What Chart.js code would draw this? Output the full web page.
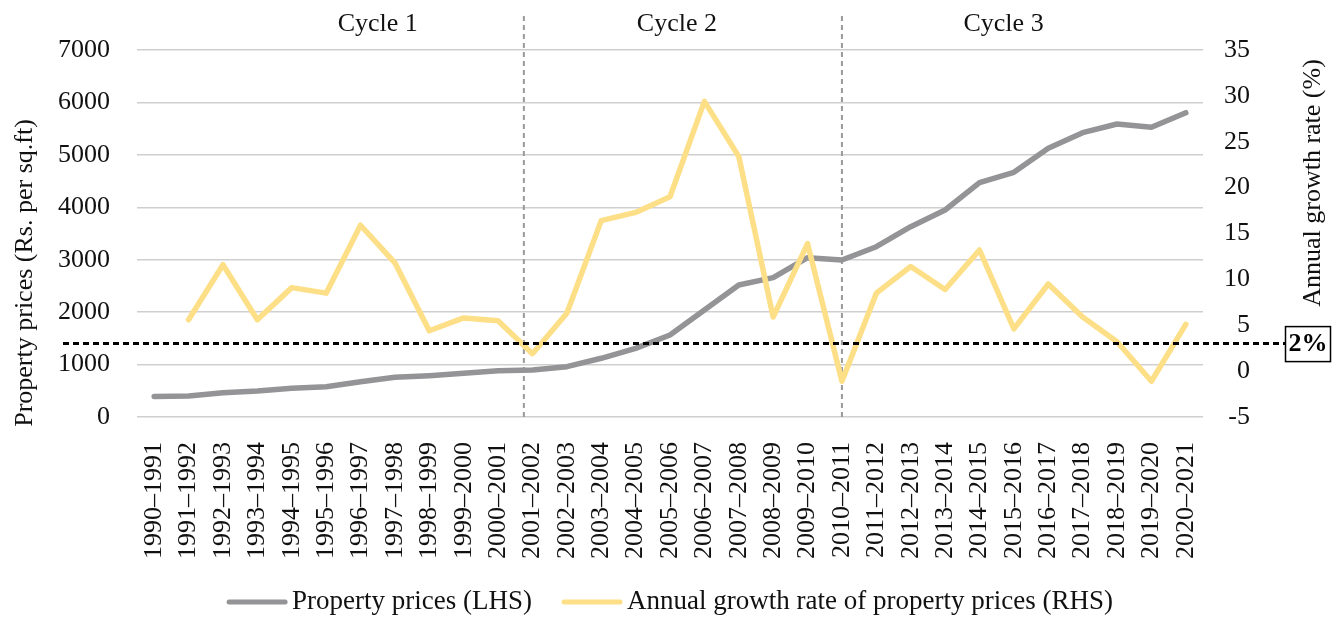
<!DOCTYPE html>
<html>
<head>
<meta charset="utf-8">
<script src="https://cdn.jsdelivr.net/npm/chart.js@4.4.1/dist/chart.umd.min.js"></script>
<style>
  html, body { margin: 0; padding: 0; background: #fff; }
  #wrap { width: 1344px; height: 621px; }
</style>
</head>
<body>
<div id="wrap"><canvas id="priceChart" width="1344" height="621"></canvas></div>
<script>
const categories = [
  '1990–1991', '1991–1992', '1992–1993', '1993–1994', '1994–1995', '1995–1996',
  '1996–1997', '1997–1998', '1998–1999', '1999–2000', '2000–2001', '2001–2002',
  '2002–2003', '2003–2004', '2004–2005', '2005–2006', '2006–2007', '2007–2008',
  '2008–2009', '2009–2010', '2010–2011', '2011–2012', '2012–2013', '2013–2014',
  '2014–2015', '2015–2016', '2016–2017', '2017–2018', '2018–2019', '2019–2020',
  '2020–2021'
];
// Rs. per sq.ft (left axis)
const propertyPrices = [
  390, 400, 463, 496, 547, 578, 673, 757, 788, 833, 883, 896,
  960, 1120, 1310, 1564, 2041, 2518, 2658, 3039, 2995, 3248,
  3630, 3948, 4469, 4667, 5125, 5423, 5589, 5526, 5804
];
// annual growth in % (right axis)
const growthRate = [
  null, 5.6, 11.6, 5.6, 9.1, 8.5, 15.9, 11.8, 4.4, 5.8, 5.5, 1.9,
  6.3, 16.4, 17.3, 19.0, 29.4, 23.4, 5.9, 13.9, -1.1, 8.5,
  11.4, 8.9, 13.2, 4.6, 9.5, 5.9, 3.2, -1.1, 5.1
];
const leftTicks = [0, 7000, 1000];   // min, max, step
const rightTicks = [-5, 35, 5];
const cycleNames = ['Cycle 1', 'Cycle 2', 'Cycle 3'];
const cycleCentres = [6.5, 15.2, 24.7];   // category index where each name sits
const cycleBreaks = [10.75, 20];          // category index of the dashed dividers
const thresholdValue = 3;                 // right-axis position of the "2%" line
const thresholdText = '2%';

const FONT = "'Liberation Serif', 'DejaVu Serif', serif";
const GREY = '#949497';
const YELLOW = '#FDDF88';

const overlay = {
  id: 'overlay',
  beforeDatasetsDraw(chart) {
    const c = chart.ctx, x = chart.scales.x, area = chart.chartArea;
    c.save();
    c.strokeStyle = '#9a9a9a';
    c.lineWidth = 2;
    c.setLineDash([5, 4]);
    cycleBreaks.forEach(idx => {
      const px = x.getPixelForValue(idx);
      c.beginPath();
      c.moveTo(px, 16);
      c.lineTo(px, area.bottom);
      c.stroke();
    });
    c.restore();
  },
  afterDatasetsDraw(chart) {
    const c = chart.ctx, y1 = chart.scales.y1;
    const py = y1.getPixelForValue(thresholdValue);
    c.save();
    c.strokeStyle = '#000';
    c.lineWidth = 3;
    c.setLineDash([6, 4]);
    c.beginPath();
    c.moveTo(63, py);
    c.lineTo(1285, py);
    c.stroke();
    c.setLineDash([]);
    c.lineWidth = 1.5;
    c.strokeRect(1285.5, py - 17, 45, 35);
    c.fillStyle = '#000';
    c.font = 'bold 26px ' + FONT;
    c.textAlign = 'center';
    c.textBaseline = 'middle';
    c.fillText(thresholdText, 1308, py + 1);
    c.restore();
  },
  afterDraw(chart) {
    const c = chart.ctx, x = chart.scales.x;
    c.save();
    c.fillStyle = '#111';
    c.font = '26px ' + FONT;
    c.textAlign = 'center';
    c.textBaseline = 'middle';
    cycleNames.forEach((name, i) => {
      c.fillText(name, x.getPixelForValue(cycleCentres[i]), 24);
    });

    // axis titles, both read bottom to top
    c.save();
    c.translate(25, 273);
    c.rotate(-Math.PI / 2);
    c.fillText('Property prices (Rs. per sq.ft)', 0, 0);
    c.restore();
    c.save();
    c.translate(1313, 183);
    c.rotate(-Math.PI / 2);
    c.fillText('Annual growth rate (%)', 0, 0);
    c.restore();

    // legend
    c.font = '27px ' + FONT;
    c.textAlign = 'left';
    const ds = chart.data.datasets;
    const sw = 60, gap = 5, itemGap = 30;
    const widths = ds.map(d => c.measureText(d.label).width);
    let total = 0;
    widths.forEach((w, i) => { total += sw + gap + w + (i ? itemGap : 0); });
    let px = (chart.chartArea.left + chart.chartArea.right) / 2 - total / 2;
    const ly = 602;
    ds.forEach((d, i) => {
      c.strokeStyle = d.borderColor;
      c.lineWidth = 5;
      c.lineCap = 'round';
      c.beginPath();
      c.moveTo(px + 2, ly);
      c.lineTo(px + sw - 2, ly);
      c.stroke();
      c.fillText(d.label, px + sw + gap, ly);
      px += sw + gap + widths[i] + itemGap;
    });
    c.restore();
  }
};

const ctx = document.getElementById('priceChart').getContext('2d');
const priceChart = new Chart(ctx, {
  type: 'line',
  data: {
    labels: categories,
    datasets: [{
      label: 'Property prices (LHS)',
      data: propertyPrices,
      yAxisID: 'y',
      borderColor: GREY,
      borderWidth: 5.5,
      borderCapStyle: 'round',
      borderJoinStyle: 'round',
      pointRadius: 0,
      tension: 0,
      order: 2
    }, {
      label: 'Annual growth rate of property prices (RHS)',
      data: growthRate,
      yAxisID: 'y1',
      borderColor: YELLOW,
      borderWidth: 5.5,
      borderCapStyle: 'round',
      borderJoinStyle: 'round',
      pointRadius: 0,
      tension: 0,
      order: 1
    }]
  },
  options: {
    responsive: false,
    animation: false,
    layout: { padding: { top: 50, bottom: 54, left: 0, right: 94 } },
    scales: {
      x: {
        offset: true,
        grid: { display: false, drawTicks: false },
        border: { display: false },
        ticks: {
          autoSkip: false,
          minRotation: 90,
          maxRotation: 90,
          padding: 25,
          color: '#111',
          font: { family: FONT, size: 26 }
        },
        afterFit(scale) { scale.height = 150; }
      },
      y: {
        position: 'left',
        min: leftTicks[0],
        max: leftTicks[1],
        grid: { color: '#cfcfcf', lineWidth: 1.5, drawTicks: false },
        border: { display: false },
        ticks: {
          stepSize: leftTicks[2],
          padding: 27,
          color: '#111',
          font: { family: FONT, size: 26 },
          callback: v => String(v)
        },
        afterFit(scale) { scale.width = 137; }
      },
      y1: {
        position: 'right',
        min: rightTicks[0],
        max: rightTicks[1],
        grid: { display: false, drawTicks: false },
        border: { display: false },
        ticks: {
          stepSize: rightTicks[2],
          padding: 21,
          crossAlign: 'far',
          color: '#111',
          font: { family: FONT, size: 26 },
          callback: v => String(v)
        },
        afterFit(scale) { scale.width = 47; }
      }
    },
    plugins: {
      legend: { display: false },
      tooltip: { enabled: false }
    }
  },
  plugins: [overlay]
});
</script>
</body>
</html>
